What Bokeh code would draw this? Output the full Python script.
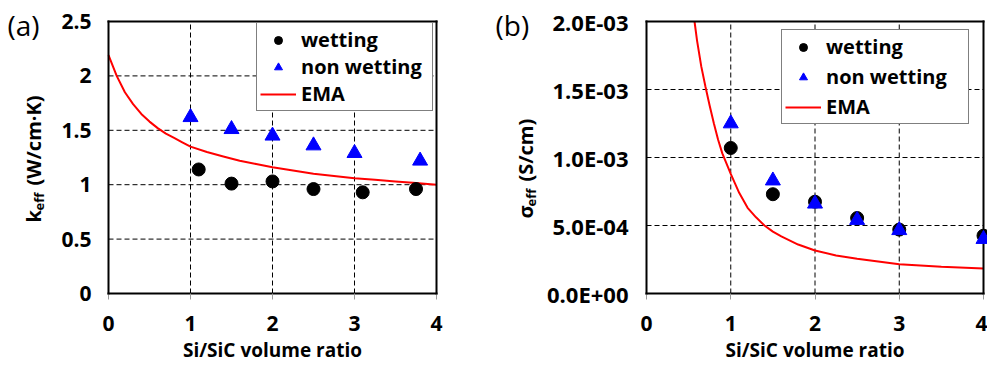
import math
from bokeh.plotting import figure
from bokeh.models import (Range1d, FixedTicker, Legend, LegendItem, Label,
                          LinearAxis, CustomJSTickFormatter)
from bokeh.layouts import row
from bokeh.embed import file_html
from bokeh.resources import INLINE

# ---------------- data: panel (a) thermal conductivity ----------------
ratio_wet_a = [1.1, 1.5, 2.0, 2.5, 3.1, 3.75]
k_wet = [1.14, 1.01, 1.03, 0.96, 0.93, 0.96]
ratio_nonwet_a = [1.0, 1.5, 2.0, 2.5, 3.0, 3.8]
k_nonwet = [1.62, 1.51, 1.45, 1.36, 1.29, 1.22]
ema_x_a = [0, 0.1, 0.2, 0.3, 0.4, 0.5, 0.6, 0.7, 0.8, 0.9, 1.0, 1.2, 1.4,
           1.6, 1.8, 2.0, 2.25, 2.5, 2.75, 3.0, 3.25, 3.5, 3.75, 4.0]
ema_k = [2.19, 2.00, 1.85, 1.74, 1.65, 1.58, 1.52, 1.47, 1.43, 1.39, 1.35,
         1.30, 1.26, 1.22, 1.19, 1.16, 1.13, 1.10, 1.08, 1.06, 1.045, 1.03,
         1.015, 1.00]

# ---------------- data: panel (b) electrical conductivity ----------------
ratio_b = [1.0, 1.5, 2.0, 2.5, 3.0, 4.0]
sig_wet = [1.07e-3, 0.73e-3, 0.675e-3, 0.555e-3, 0.47e-3, 0.425e-3]
sig_nonwet = [1.25e-3, 0.83e-3, 0.66e-3, 0.54e-3, 0.465e-3, 0.40e-3]
ema_x_b = [0.57, 0.6, 0.65, 0.7, 0.75, 0.8, 0.85, 0.9, 1.0, 1.1, 1.2, 1.3,
           1.4, 1.5, 1.6, 1.8, 2.0, 2.25, 2.5, 2.75, 3.0, 3.5, 4.0]
ema_sig = [2.0e-3, 1.86e-3, 1.67e-3, 1.52e-3, 1.38e-3, 1.25e-3, 1.13e-3,
           1.03e-3, 0.88e-3, 0.74e-3, 0.63e-3, 0.56e-3, 0.50e-3, 0.455e-3,
           0.42e-3, 0.36e-3, 0.316e-3, 0.28e-3, 0.255e-3, 0.235e-3,
           0.215e-3, 0.197e-3, 0.184e-3]

x_ticks = [0, 1, 2, 3, 4]
grid_x = [1, 2, 3]
y_ticks_a = [0, 0.5, 1, 1.5, 2, 2.5]
grid_y_a = [0.5, 1, 1.5, 2]
y_ticks_b = [0, 0.5e-3, 1.0e-3, 1.5e-3, 2.0e-3]
grid_y_b = [0.5e-3, 1.0e-3, 1.5e-3]

FONT = "Open Sans"
TICK_SIZE = "21px"
TITLE_SIZE = "19px"
YT_SIZE = "20px"
LEG_SIZE = "20px"
H = 369


def make_fig(width, left_px, right_px, top_px, bottom_px, x_hi, y_hi, yt, gy):
    # the frame covers the whole canvas; the plot box is drawn by
    # fixed-location axes so that annotations outside the box stay visible
    sx = (right_px - left_px) / x_hi
    sy = (bottom_px - top_px) / y_hi
    p = figure(width=width, height=H, output_backend="svg",
               toolbar_location=None,
               x_range=Range1d(-left_px / sx, x_hi + (width - right_px) / sx),
               y_range=Range1d(-(H - bottom_px) / sy, y_hi + top_px / sy),
               min_border_left=0, min_border_right=0, min_border_top=0,
               min_border_bottom=0)
    p.background_fill_color = "white"
    p.border_fill_color = "white"
    p.outline_line_color = None
    p.xgrid.visible = False
    p.ygrid.visible = False

    # dashed grid lines inside the box, at the tick positions
    p.segment(x0=grid_x, y0=[0] * len(grid_x), x1=grid_x,
              y1=[y_hi] * len(grid_x), line_color="black", line_width=1,
              line_dash="5 3", level="underlay")
    p.segment(x0=[0] * len(gy), y0=gy, x1=[x_hi] * len(gy), y1=gy,
              line_color="black", line_width=1, line_dash="5 3",
              level="underlay")

    p.xaxis.fixed_location = 0
    p.xaxis.bounds = (0, x_hi)
    p.xaxis.ticker = FixedTicker(ticks=x_ticks)
    p.yaxis.fixed_location = 0
    p.yaxis.bounds = (0, y_hi)
    p.yaxis.ticker = FixedTicker(ticks=yt)
    for ax in (p.xaxis, p.yaxis):
        ax.axis_line_color = "black"
        ax.axis_line_width = 2
        ax.axis_line_cap = "square"
        ax.major_label_text_font = FONT
        ax.major_label_text_font_style = "bold"
        ax.major_label_text_font_size = TICK_SIZE
        ax.major_label_text_color = "black"
        ax.minor_tick_line_color = None
    p.xaxis.major_tick_out = 6
    p.xaxis.major_tick_in = 0
    p.xaxis.major_tick_line_color = "#9a9a9a"
    p.xaxis.major_label_standoff = 16
    p.xaxis.axis_label = "Si/SiC volume ratio"
    p.xaxis.axis_label_text_font = FONT
    p.xaxis.axis_label_text_font_style = "bold"
    p.xaxis.axis_label_text_font_size = TITLE_SIZE
    p.xaxis.axis_label_text_color = "black"
    p.xaxis.axis_label_standoff = 3
    p.yaxis.major_tick_out = 0
    p.yaxis.major_tick_in = 0
    p.yaxis.major_tick_line_color = None
    p.yaxis.major_label_standoff = 17

    top = LinearAxis(fixed_location=y_hi, bounds=(0, x_hi),
                     ticker=FixedTicker(ticks=[]), axis_line_width=2,
                     axis_line_color="black", axis_line_cap="square",
                     major_tick_line_color=None, minor_tick_line_color=None,
                     major_label_text_font_size="0px")
    right = LinearAxis(fixed_location=x_hi, bounds=(0, y_hi),
                       ticker=FixedTicker(ticks=[]), axis_line_width=2,
                       axis_line_color="black", axis_line_cap="square",
                       major_tick_line_color=None, minor_tick_line_color=None,
                       major_label_text_font_size="0px")
    p.add_layout(top, "above")
    p.add_layout(right, "right")
    return p


def add_legend(p, r_wet, r_non, r_ema, loc, sp, lw):
    leg = Legend(items=[LegendItem(label="wetting", renderers=[r_wet]),
                        LegendItem(label="non wetting", renderers=[r_non]),
                        LegendItem(label="EMA", renderers=[r_ema])],
                 location=loc, border_line_color="black", border_line_width=1,
                 background_fill_color="white", background_fill_alpha=1,
                 label_text_font=FONT, label_text_font_style="bold",
                 label_text_font_size=LEG_SIZE, label_text_color="black",
                 padding=3, spacing=sp, glyph_width=36, glyph_height=20,
                 label_height=20, label_width=lw, label_standoff=5, margin=0)
    p.add_layout(leg)


def lab(p, text, x, y, size, style="bold", angle=0.0):
    p.add_layout(Label(x=x, y=y, x_units="screen", y_units="screen",
                       text=text, text_font=FONT, text_font_style=style,
                       text_font_size=size, text_color="black", angle=angle,
                       text_align="left", text_baseline="middle"))


ang = math.pi / 2

# ---------------- panel (a) ----------------
pa = make_fig(490, 108, 436, 21, 293, 4, 2.5, y_ticks_a, grid_y_a)
r_ema_a = pa.line(ema_x_a, ema_k, line_color="red", line_width=2)
r_wet_a = pa.scatter(ratio_wet_a, k_wet, marker="circle", size=13,
                     fill_color="black", line_color="black", level="overlay")
r_non_a = pa.scatter(ratio_nonwet_a, k_nonwet, marker="triangle", size=15,
                     fill_color="blue", line_color="blue", level="overlay")
add_legend(pa, r_wet_a, r_non_a, r_ema_a, (256, 258), 0, 128)
lab(pa, "(a)", 7, 345, "28px", style="normal")
lab(pa, "k", 33, 147, YT_SIZE, angle=ang)
lab(pa, "eff", 38, 159, "13px", angle=ang)
lab(pa, "(W/cm\u00b7K)", 33, 184, YT_SIZE, angle=ang)

# ---------------- panel (b) ----------------
pb = make_fig(497, 156, 493, 21, 293, 4, 2.0e-3, y_ticks_b, grid_y_b)
pb.yaxis.formatter = CustomJSTickFormatter(code="""
    if (tick === 0) { return "0.0E+00"; }
    const e = Math.floor(Math.log10(Math.abs(tick)) + 1e-9);
    const m = tick / Math.pow(10, e);
    const s = e < 0 ? "-" : "+";
    return m.toFixed(1) + "E" + s + String(Math.abs(e)).padStart(2, "0");
""")
pb.yaxis.major_label_text_font_size = "22px"
pb.yaxis.major_label_standoff = 18
r_ema_b = pb.line(ema_x_b, ema_sig, line_color="red", line_width=2)
r_wet_b = pb.scatter(ratio_b, sig_wet, marker="circle", size=13,
                     fill_color="black", line_color="black", level="overlay")
r_non_b = pb.scatter(ratio_b, sig_nonwet, marker="triangle", size=15,
                     fill_color="blue", line_color="blue", level="overlay")
add_legend(pb, r_wet_b, r_non_b, r_ema_b, (291, 245), 3, 139)
lab(pb, "(b)", 5, 345, "28px", style="normal")
lab(pb, "\u03c3", 35, 151, YT_SIZE, angle=ang)
lab(pb, "eff", 40, 163, "13px", angle=ang)
lab(pb, "(S/cm)", 35, 188, YT_SIZE, angle=ang)

layout = row(pa, pb)
open("out.html", "w").write(file_html(layout, INLINE))
